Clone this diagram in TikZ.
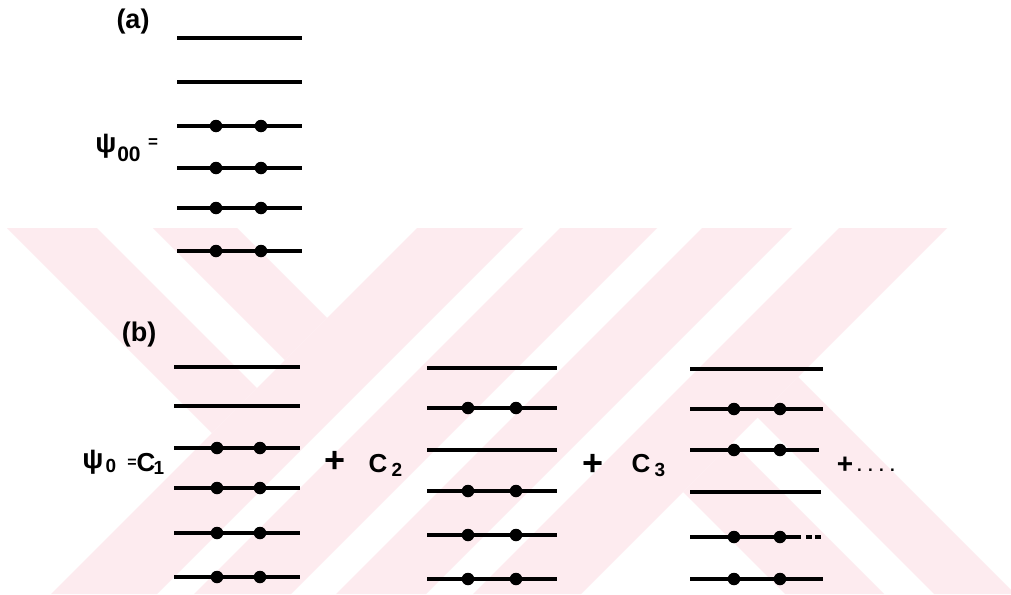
\documentclass[tikz,border=0pt]{standalone}
\usepackage{fontspec}
\setmainfont{Liberation Sans}
\definecolor{wmpink}{RGB}{253,235,239}
\begin{document}
\begin{tikzpicture}[x=1pt,y=-1pt,
  level/.style={line width=3.3pt,black},
  electron/.style={circle,fill=black,inner sep=0pt,minimum size=12.5pt},
  txt/.style={font=\bfseries\fontsize{#1}{#1}\selectfont,inner sep=0pt,text=black},
  wm/.style={fill=wmpink,draw=none}]
\fill[white] (0,0) rectangle (1011,594);
\useasboundingbox (0,0) rectangle (1011,594);

% background emblem: diagonal stripes
\begin{scope}
  \clip (0,228) rectangle (1011,594);
  \fill[wm] (7,228) -- (97,228) -- (257,388) -- (212,433) -- cycle;
  \fill[wm] (153,228) -- (237,228) -- (327,318) -- (285,360) -- cycle;
  \fill[wm] (417,228) -- (523,228) -- (157,594) -- (51,594) -- cycle;
  \fill[wm] (560,228) -- (657,228) -- (291,594) -- (194,594) -- cycle;
  \fill[wm] (702,228) -- (792,228) -- (426,594) -- (336,594) -- cycle;
  \fill[wm] (839,228) -- (947,228) -- (581,594) -- (473,594) -- cycle;
  \fill[wm] (798,377) -- (1015,594) -- (934,594) -- (757.5,417.5) -- cycle;
  \fill[wm] (732.5,442.5) -- (884,594) -- (785,594) -- (683,492) -- cycle;
\end{scope}

% (a) ground configuration
\foreach \y/\d [count=\i] in {38/0,82/0,126/1,168/1,208/1,251/1}{
  \coordinate (aL\i) at (177,\y);
  \coordinate (aR\i) at (302,\y);
  \draw[level] (aL\i) -- (aR\i);
  \ifnum\d=1
    \node[electron] (aE\i) at (216,\y) {};
    \node[electron] (aF\i) at (261,\y) {};
  \fi
}

% (b) first configuration
\foreach \y/\d [count=\i] in {367/0,406/0,448/1,488/1,533/1,577/1}{
  \coordinate (bL\i) at (174,\y);
  \coordinate (bR\i) at (300,\y);
  \draw[level] (bL\i) -- (bR\i);
  \ifnum\d=1
    \node[electron] (bE\i) at (217,\y) {};
    \node[electron] (bF\i) at (260,\y) {};
  \fi
}

% (b) second configuration
\foreach \y/\d [count=\i] in {368/0,408/1,450/0,491/1,535/1,579/1}{
  \coordinate (cL\i) at (427,\y);
  \coordinate (cR\i) at (557,\y);
  \draw[level] (cL\i) -- (cR\i);
  \ifnum\d=1
    \node[electron] (cE\i) at (468,\y) {};
    \node[electron] (cF\i) at (516,\y) {};
  \fi
}

% (b) third configuration
\foreach \y/\d/\r [count=\i] in {369/0/823,409/1/823,450/1/819,492/0/821,537/1/801,579/1/823}{
  \coordinate (dL\i) at (690,\y);
  \coordinate (dR\i) at (\r,\y);
  \draw[level] (dL\i) -- (dR\i);
  \ifnum\d=1
    \node[electron] (dE\i) at (734,\y) {};
    \node[electron] (dF\i) at (780,\y) {};
  \fi
}
\coordinate (dk1) at (806,537);
\coordinate (dk2) at (812,537);
\coordinate (dk3) at (815,537);
\coordinate (dk4) at (821,537);
\draw[level] (dk1) -- (dk2);
\draw[level] (dk3) -- (dk4);

% labels
\node[txt=27] (lblA) at (133,22) {(a)};
\node[txt=28] (psiA) at (106,146) {ψ};
\node[txt=21] (subA) at (129,154) {00};
\node[txt=17] (eqA) at (153,143) {=};

\node[txt=27] (lblB) at (139,335) {(b)};
\node[txt=28] (psiB) at (93,462) {ψ};
\node[txt=19] (subB) at (111,466) {0};
\node[txt=16] (eqB) at (132,463) {=};
\node[txt=26] (cB1) at (146,463) {C};
\node[txt=19] (sB1) at (159,468) {1};

\node[txt=36] (plusB1) at (335,462) {+};
\node[txt=26] (cB2) at (378,464) {C};
\node[txt=19] (sB2) at (397,470) {2};

\node[txt=36] (plusB2) at (593,465) {+};
\node[txt=26] (cB3) at (641,464) {C};
\node[txt=19] (sB3) at (660,470) {3};

\node[txt=28] (plusB3) at (845,465) {+};
\node[txt=17] (etc) at (876,470) {. . . .};
\end{tikzpicture}
\end{document}
